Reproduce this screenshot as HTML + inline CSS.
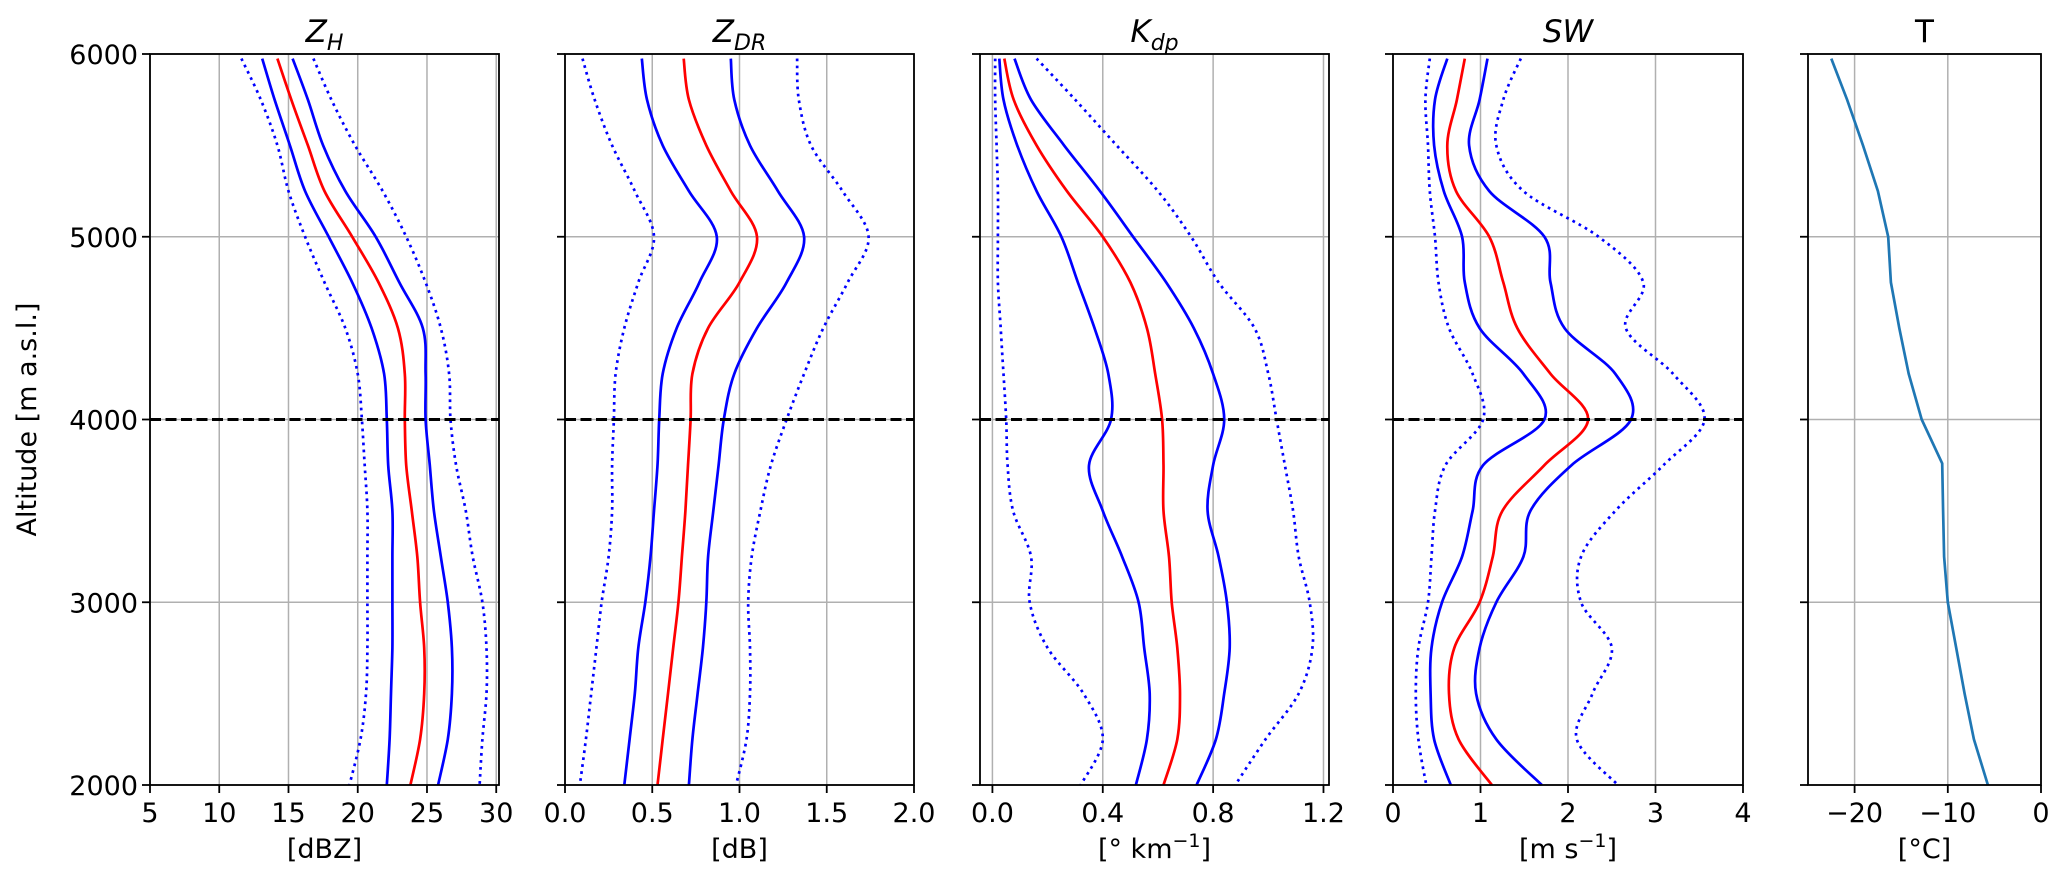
<!DOCTYPE html>
<html><head><meta charset="utf-8"><style>
body{margin:0;background:#fff;}
svg{display:block;font-family:"DejaVu Sans","Liberation Sans",sans-serif;}
</style></head><body>
<svg id="chart" width="2067" height="879" viewBox="0 0 2067 879"></svg>
<script>
const alts = [5975,5750,5500,5250,5000,4750,4500,4250,4000,3750,3500,3250,3000,2750,2500,2250,2000];
// Z_H
const zhMed  = [14.2,15.2,16.4,17.6,19.6,21.5,22.9,23.4,23.4,23.5,23.9,24.3,24.5,24.8,24.8,24.5,23.8];
const zhLo   = [13.1,14.0,15.1,16.2,17.9,19.6,21.0,21.9,22.1,22.2,22.5,22.5,22.5,22.5,22.4,22.3,22.1];
const zhHi   = [15.3,16.4,17.5,19.1,21.3,23.0,24.7,24.9,24.9,25.2,25.5,26.0,26.5,26.8,26.8,26.5,25.8];
const zhLo2  = [11.6,13.0,14.2,15.0,16.2,17.6,19.1,20.0,20.3,20.5,20.7,20.7,20.7,20.7,20.6,20.2,19.4];
const zhHi2  = [16.8,18.1,19.8,21.8,23.5,24.9,26.0,26.6,26.7,27.1,27.8,28.3,29.0,29.3,29.3,29.0,28.8];
// Z_DR
const zdrMed = [0.68,0.71,0.81,0.95,1.10,1.00,0.82,0.73,0.72,0.705,0.69,0.67,0.65,0.62,0.59,0.56,0.53];
const zdrLo  = [0.44,0.47,0.56,0.71,0.87,0.77,0.64,0.56,0.54,0.53,0.51,0.49,0.46,0.42,0.40,0.37,0.34];
const zdrHi  = [0.95,0.97,1.06,1.22,1.37,1.27,1.10,0.97,0.91,0.88,0.85,0.82,0.81,0.79,0.76,0.73,0.71];
const zdrLo2 = [0.10,0.17,0.27,0.40,0.51,0.42,0.34,0.29,0.28,0.27,0.27,0.25,0.21,0.18,0.15,0.12,0.085];
const zdrHi2 = [1.33,1.34,1.41,1.59,1.74,1.62,1.48,1.37,1.27,1.18,1.12,1.07,1.05,1.06,1.06,1.04,0.98];
// K_dp
const kdpMed = [0.043,0.077,0.16,0.27,0.40,0.50,0.56,0.59,0.615,0.62,0.62,0.64,0.65,0.67,0.68,0.67,0.62];
const kdpLo  = [0.025,0.04,0.09,0.16,0.25,0.31,0.37,0.42,0.43,0.35,0.40,0.47,0.53,0.55,0.57,0.56,0.52];
const kdpHi  = [0.08,0.14,0.26,0.39,0.51,0.63,0.73,0.80,0.84,0.80,0.78,0.82,0.85,0.86,0.84,0.81,0.74];
const kdpLo2 = [0.01,0.01,0.015,0.02,0.02,0.02,0.03,0.04,0.05,0.055,0.075,0.14,0.135,0.2,0.33,0.40,0.32];
const kdpHi2 = [0.16,0.30,0.45,0.60,0.72,0.82,0.95,1.00,1.03,1.06,1.09,1.11,1.15,1.16,1.11,0.99,0.88];
// SW
const swMed  = [0.82,0.73,0.62,0.72,1.10,1.26,1.42,1.80,2.23,1.73,1.25,1.14,0.99,0.70,0.64,0.75,1.13];
const swLo   = [0.62,0.48,0.47,0.58,0.79,0.82,0.99,1.49,1.73,1.03,0.91,0.79,0.56,0.44,0.43,0.47,0.66];
const swHi   = [1.08,0.99,0.87,1.10,1.73,1.80,1.96,2.54,2.72,2.04,1.57,1.49,1.18,0.99,0.95,1.18,1.70];
const swLo2  = [0.42,0.37,0.40,0.42,0.48,0.52,0.64,0.91,1.03,0.60,0.48,0.44,0.40,0.29,0.26,0.29,0.38];
const swHi2  = [1.46,1.26,1.18,1.49,2.35,2.86,2.66,3.20,3.56,3.09,2.54,2.15,2.15,2.50,2.28,2.10,2.57];
// Temperature
const tAlts  = [5975,5750,5500,5250,5000,4750,4500,4250,4000,3760,3500,3250,3000,2750,2500,2250,2000];
const tVals  = [-22.5,-20.8,-19.1,-17.5,-16.4,-16.1,-15.2,-14.2,-12.8,-10.6,-10.5,-10.4,-10.0,-9.1,-8.2,-7.2,-5.7];

const zhTicks = [5,10,15,20,25,30];
const zdrTicks = [0,0.5,1.0,1.5,2.0];
const kdpTicks = [0,0.4,0.8,1.2];
const swTicks = [0,1,2,3,4];
const tTicks = [-20,-10,0];
const altTicks = [2000,3000,4000,5000,6000];
const meltLevel = 4000;

const NS="http://www.w3.org/2000/svg";
const svg=document.getElementById('chart');
const TOP=54,BOT=785,AMAX=6000,AMIN=2000;
function yS(a){return TOP+(AMAX-a)/(AMAX-AMIN)*(BOT-TOP);}
function mk(tag,attrs,parent){const e=document.createElementNS(NS,tag);for(const k in attrs)e.setAttribute(k,attrs[k]);(parent||svg).appendChild(e);return e;}
function smoothPath(pts){
  let d='M'+pts[0][0].toFixed(1)+','+pts[0][1].toFixed(1);
  for(let i=0;i<pts.length-1;i++){
    const p0=pts[Math.max(0,i-1)],p1=pts[i],p2=pts[i+1],p3=pts[Math.min(pts.length-1,i+2)];
    const c1x=p1[0]+(p2[0]-p0[0])/6,c1y=p1[1]+(p2[1]-p0[1])/6;
    const c2x=p2[0]-(p3[0]-p1[0])/6,c2y=p2[1]-(p3[1]-p1[1])/6;
    d+=' C'+c1x.toFixed(1)+','+c1y.toFixed(1)+' '+c2x.toFixed(1)+','+c2y.toFixed(1)+' '+p2[0].toFixed(1)+','+p2[1].toFixed(1);
  }
  return d;
}

const panels=[
 {key:'zh',left:150,right:499,xmin:5,xmax:30.2,ticks:zhTicks,fmt:v=>String(v),unit:'[dBZ]',title:['Z','H'],
  series:[[zhLo2,'d'],[zhHi2,'d'],[zhLo,'b'],[zhHi,'b'],[zhMed,'r']],melt:true},
 {key:'zdr',left:565,right:914,xmin:0,xmax:2,ticks:zdrTicks,fmt:v=>v.toFixed(1),unit:'[dB]',title:['Z','DR'],
  series:[[zdrLo2,'d'],[zdrHi2,'d'],[zdrLo,'b'],[zdrHi,'b'],[zdrMed,'r']],melt:true},
 {key:'kdp',left:980,right:1329,xmin:-0.045,xmax:1.22,ticks:kdpTicks,fmt:v=>v.toFixed(1),unit:'kdp',title:['K','dp'],
  series:[[kdpLo2,'d'],[kdpHi2,'d'],[kdpLo,'b'],[kdpHi,'b'],[kdpMed,'r']],melt:true},
 {key:'sw',left:1393,right:1743,xmin:0,xmax:4,ticks:swTicks,fmt:v=>String(v),unit:'sw',title:['SW',''],
  series:[[swLo2,'d'],[swHi2,'d'],[swLo,'b'],[swHi,'b'],[swMed,'r']],melt:true},
 {key:'t',left:1808,right:2041,xmin:-25,xmax:0,ticks:tTicks,fmt:v=>String(v).replace('-','\u2212'),unit:'[°C]',title:['T',''],
  series:[],melt:false}
];

panels.forEach((p,pi)=>{
  const g=mk('g',{});
  
  
  const xS=v=>p.left+(v-p.xmin)/(p.xmax-p.xmin)*(p.right-p.left);
  p.ticks.forEach(t=>{const l=mk('line',{x1:xS(t),x2:xS(t),y1:TOP,y2:BOT,stroke:'#b0b0b0','stroke-width':1.5},g);
    });
  altTicks.forEach(a=>{const l=mk('line',{x1:p.left,x2:p.right,y1:yS(a),y2:yS(a),stroke:'#b0b0b0','stroke-width':1.5},g);
    });
  p.series.forEach(([vals,sty])=>{
    const pts=vals.map((v,i)=>[xS(v),yS(alts[i])]);
    const attrs={d:smoothPath(pts),fill:'none','stroke-width':2.7,'stroke-linejoin':'round',stroke:sty==='r'?'#ff0000':'#0000ff'};
    if(sty==='d'){attrs['stroke-dasharray']='2.7 4.3';}
    const path=mk('path',attrs,g);
    
    
  });
  if(p.key==='t'){
    const d=tVals.map((v,i)=>(i?'L':'M')+xS(v).toFixed(1)+','+yS(tAlts[i]).toFixed(1)).join(' ');
    const path=mk('path',{d:d,fill:'none',stroke:'#1f77b4','stroke-width':2.7},g);
    
    
  }
  if(p.melt){
    const l=mk('line',{x1:p.left,x2:p.right,y1:yS(meltLevel),y2:yS(meltLevel),stroke:'#000','stroke-width':3,'stroke-dasharray':'11 4.5'},g);
    
  }
  const fr=mk('rect',{x:p.left,y:TOP,width:p.right-p.left,height:BOT-TOP,fill:'none',stroke:'#000','stroke-width':1.8},g);
  
  p.ticks.forEach(t=>{
    mk('line',{x1:xS(t),x2:xS(t),y1:BOT,y2:BOT+8,stroke:'#000','stroke-width':1.8},g);
    const tx=mk('text',{x:xS(t),y:822,'text-anchor':'middle','font-size':27},g);
    tx.textContent=p.fmt(t);
    
  });
  altTicks.forEach(a=>{
    mk('line',{x1:p.left-8,x2:p.left,y1:yS(a),y2:yS(a),stroke:'#000','stroke-width':1.8},g);
    if(pi===0){const tx=mk('text',{x:p.left-12,y:yS(a)+10,'text-anchor':'end','font-size':27},g);
      tx.textContent=String(a);}
  });
  const cx=(p.left+p.right)/2;
  const u=mk('text',{x:cx,y:858,'text-anchor':'middle','font-size':27},g);
  
  if(p.unit==='kdp'){u.innerHTML='[° km<tspan dy="-11" font-size="19">−1</tspan><tspan dy="11">]</tspan>';}
  else if(p.unit==='sw'){u.innerHTML='[m s<tspan dy="-11" font-size="19">−1</tspan><tspan dy="11">]</tspan>';}
  else u.textContent=p.unit;
  const ti=mk('text',{x:cx,y:42,'text-anchor':'middle','font-size':31},g);
  
  if(p.key==='t'){ti.textContent='T';}
  else if(p.title[1]){ti.innerHTML='<tspan font-style="italic">'+p.title[0]+'</tspan><tspan font-style="italic" font-size="22" dy="8">'+p.title[1]+'</tspan>';}
  else{ti.innerHTML='<tspan font-style="italic">'+p.title[0]+'</tspan>';}
});
const yl=mk('text',{x:0,y:0,'text-anchor':'middle','font-size':27,transform:'translate(36,'+((TOP+BOT)/2)+') rotate(-90)'});
yl.textContent='Altitude [m a.s.l.]';


</script>
</body></html>
